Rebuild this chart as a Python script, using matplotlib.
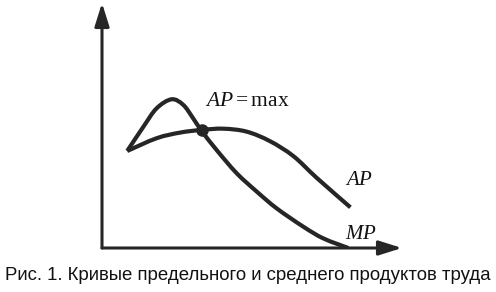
import numpy as np
import matplotlib
matplotlib.use("Agg")
import matplotlib.pyplot as plt
from matplotlib.path import Path
from matplotlib.patches import PathPatch

plt.rcParams['mathtext.fontset'] = 'custom'
plt.rcParams['mathtext.it'] = 'Liberation Serif:italic'
plt.rcParams['mathtext.rm'] = 'Liberation Serif'

# Data (labour on x, product on y)
mp_x = [0.84, 1.38, 1.82, 2.32, 2.71, 3.04, 3.32, 3.82, 4.49, 5.16, 5.82, 6.71, 7.38, 8.21]
mp_y = [3.96, 4.95, 5.70, 6.07, 5.84, 5.29, 4.78, 4.00, 3.05, 2.30, 1.62, 0.87, 0.39, 0.00]
ap_x = [0.84, 1.82, 2.60, 3.32, 4.04, 4.82, 5.60, 6.38, 7.16, 8.28]
ap_y = [3.96, 4.48, 4.71, 4.82, 4.87, 4.75, 4.36, 3.75, 2.86, 1.66]
ap_max = (3.32, 4.80)
labels = {"apmax": r"$AP = \mathrm{max}$", "ap": r"$AP$", "mp": r"$MP$"}
caption = "Рис. 1. Кривые предельного и среднего продуктов труда"

INK = "#262626"

fig = plt.figure(figsize=(4.96, 2.92), dpi=100)
ax = fig.add_axes([102/496, 44/292, 300/496, 245/292])
ax.set_xlim(0, 10)
ax.set_ylim(0, 10)
ax.axis("off")


def smooth(xs, ys):
    P = np.column_stack([xs, ys])
    n = len(P)
    verts = [P[0]]
    codes = [Path.MOVETO]
    for i in range(n - 1):
        p0 = P[i - 1] if i > 0 else P[i]
        p1 = P[i]
        p2 = P[i + 1]
        p3 = P[i + 2] if i + 2 < n else P[i + 1]
        c1 = p1 + (p2 - p0) / 6.0
        c2 = p2 - (p3 - p1) / 6.0
        verts += [c1, c2, p2]
        codes += [Path.CURVE4] * 3
    return Path(verts, codes)


for xs, ys in [(mp_x, mp_y), (ap_x, ap_y)]:
    ax.add_patch(PathPatch(smooth(xs, ys), facecolor="none", edgecolor=INK,
                           lw=3.0, capstyle="butt", joinstyle="round"))

ax.plot([ap_max[0]], [ap_max[1]], "o", color=INK, ms=8, zorder=5)

# Axes with arrows
arrow_kw = dict(arrowstyle="-|>,head_length=0.7,head_width=0.22", color=INK,
                lw=2.2, mutation_scale=20, shrinkA=0, shrinkB=0)
ax.annotate("", xy=(0, 1.0), xytext=(0, 0), xycoords="axes fraction",
            arrowprops=arrow_kw, annotation_clip=False)
ax.annotate("", xy=(1.0, 0), xytext=(0, 0), xycoords="axes fraction",
            arrowprops=arrow_kw, annotation_clip=False)

ax.text(4.83, 6.04, labels["apmax"], fontsize=15.5, ha="center", va="center", color="#111")
ax.text(8.57, 2.82, labels["ap"], fontsize=15, ha="center", va="center", color="#111")
ax.text(8.63, 0.63, labels["mp"], fontsize=15, ha="center", va="center", color="#111")

fig.text(248/496, 1 - 275/292, caption, fontsize=13.4, family="Liberation Sans",
         ha="center", va="center", color="#111")

fig.savefig("out.png", dpi=100)
